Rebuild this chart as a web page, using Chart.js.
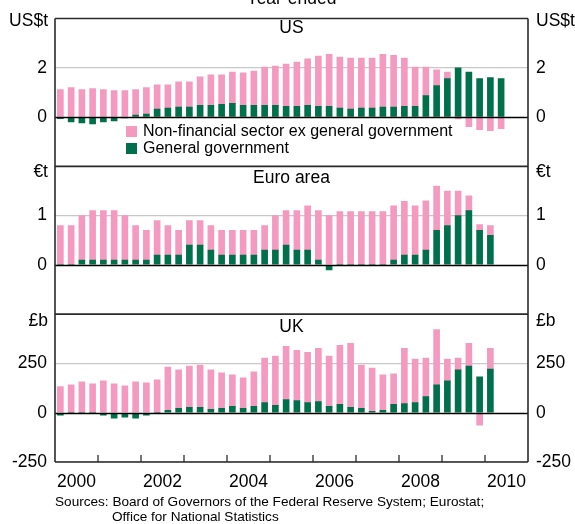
<!DOCTYPE html>
<html><head><meta charset="utf-8">
<script src="https://cdn.jsdelivr.net/npm/chart.js@4"></script>
<style>
html,body{margin:0;padding:0;background:#fff;}
#wrap{position:relative;width:575px;height:524px;overflow:hidden;font-family:"Liberation Sans",Arial,sans-serif;color:#000;}
#c{position:absolute;left:0;top:0;}
.t{position:absolute;white-space:nowrap;line-height:20px;font-size:17.5px;}
.sw{position:absolute;width:11px;height:11px;}
.src{position:absolute;white-space:nowrap;font-size:13.6px;line-height:15px;}
</style></head><body>
<div id="wrap">
<canvas id="c" width="575" height="524"></canvas>
<div class="t" style="left:0;width:583px;text-align:center;top:-12px;">Year-ended</div>
<div class="t" style="left:0;width:583px;text-align:center;top:17px;">US</div>
<div class="t" style="left:0;width:583px;text-align:center;top:167px;">Euro area</div>
<div class="t" style="left:0;width:583px;text-align:center;top:316px;">UK</div>
<div class="t" style="right:527px;top:10px;">US$t</div>
<div class="t" style="left:536px;top:10px;">US$t</div>
<div class="t" style="right:527px;top:161px;">€t</div>
<div class="t" style="left:536px;top:161px;">€t</div>
<div class="t" style="right:527px;top:310px;">£b</div>
<div class="t" style="left:536px;top:310px;">£b</div>
<div class="sw" style="left:126px;top:126px;background:#f49ac1;"></div>
<div class="t" style="left:143px;top:121px;font-size:16px;">Non-financial sector ex general government</div>
<div class="sw" style="left:126px;top:143px;background:#00704a;"></div>
<div class="t" style="left:143px;top:138px;font-size:16px;">General government</div>
<div class="src" style="left:55px;top:494px;">Sources: Board of Governors of the Federal Reserve System; Eurostat;</div>
<div class="src" style="left:112px;top:509px;">Office for National Statistics</div>
</div>
<script>
const years = [2000,2001,2002,2003,2004,2005,2006,2007,2008,2009,2010];
const yearLabels = [2000,2002,2004,2006,2008,2010];
const quarters = years.flatMap(y => ['Q1','Q2','Q3','Q4'].map(q => y + ' ' + q));

// US$ trillions, year-ended
const usGov = [-0.07,-0.2,-0.24,-0.28,-0.2,-0.16,-0.04,0.08,0.12,0.32,0.36,0.4,0.4,0.48,0.48,0.52,0.56,0.48,0.48,0.48,0.48,0.44,0.44,0.48,0.44,0.44,0.36,0.32,0.36,0.36,0.4,0.4,0.44,0.44,0.87,1.28,1.56,2.0,1.83,1.56,1.6,1.56];
const usNonFin = [1.12,1.2,1.12,1.16,1.12,1.07,1.07,1.04,1.08,0.99,0.95,1.03,1.03,1.15,1.23,1.19,1.27,1.31,1.39,1.55,1.59,1.71,1.79,1.88,2.03,2.11,2.07,2.07,2.03,2.03,2.15,2.11,1.95,1.59,1.16,0.64,0.27,-0.08,-0.39,-0.51,-0.55,-0.47];
// Euro trillions
const euGov = [0,0,0.1,0.1,0.1,0.1,0.1,0.1,0.1,0.2,0.2,0.2,0.4,0.4,0.3,0.2,0.2,0.2,0.2,0.3,0.3,0.4,0.3,0.3,0.1,-0.1,0,0,0,0,0,0.1,0.2,0.2,0.3,0.7,0.8,1.0,1.1,0.7,0.6];
const euNonFin = [0.8,0.8,0.9,1.0,1.0,1.0,0.9,0.7,0.6,0.7,0.6,0.5,0.5,0.5,0.5,0.5,0.5,0.5,0.5,0.5,0.7,0.7,0.8,0.9,1.0,1.0,1.08,1.08,1.08,1.08,1.08,1.1,1.09,1.0,1.0,0.9,0.7,0.5,0.3,0.12,0.2];
// £ billions
const ukGov = [-13,0,0,0,-13,-28,-23,-28,-13,0,12,22,27,27,17,22,32,22,32,52,37,67,62,52,57,32,42,27,22,7,12,42,47,52,82,142,162,217,237,182,222];
const ukNonFin = [132,142,157,147,162,147,137,157,152,167,220,195,210,215,200,180,160,155,175,225,250,270,255,255,270,255,300,325,220,220,180,155,280,220,195,280,110,60,115,-63,105];

const usTicks = [0,2], euTicks = [0,1], ukTicks = [-250,0,250];
const usRange = [-2,4], euRange = [-1,2], ukRange = [-250,500];

const PINK = '#f49ac1', GREEN = '#00704a';
Chart.defaults.font.family = "'Liberation Sans', Arial, sans-serif";
Chart.defaults.color = '#000';

const pts = arr => arr.map((v, i) => ({x: i, y: v}));
function ds(label, arr, color, yId) {
  return {label, data: pts(arr), backgroundColor: color, yAxisID: yId, barThickness: 6, borderWidth: 0};
}
const FONT = {size: 17.5};
function yAxis(pos, range, ticks, weight) {
  return {
    type: 'linear', position: pos, stack: pos, stackWeight: 1, weight,
    min: range[0], max: range[1], stacked: true,
    afterBuildTicks: s => { s.ticks = ticks.map(v => ({value: v})); },
    afterFit: s => { s.width = pos === 'left' ? 55 : 47; },
    grid: {drawTicks: false, drawOnChartArea: pos === 'left',
      color: c => (c.tick && c.tick.value === 0) ? 'rgba(0,0,0,0)' : '#c8c8c8', lineWidth: 1.2},
    border: {display: false},
    ticks: {padding: 8, font: FONT, color: '#000'}
  };
}

const framePlugin = {
  id: 'frame',
  afterDatasetsDraw(chart) {
    const {ctx, chartArea: a, scales} = chart;
    ctx.save();
    const line = (x1, y1, x2, y2) => { ctx.beginPath(); ctx.moveTo(x1, y1); ctx.lineTo(x2, y2); ctx.stroke(); };
    ctx.strokeStyle = '#000'; ctx.lineWidth = 1.3;
    ['yUS','yEU','yUK'].forEach(id => {
      const py = Math.round(scales[id].getPixelForValue(0)) + 0.5;
      line(a.left, py, a.right, py);
    });
    ctx.strokeStyle = '#2a2a2a'; ctx.lineWidth = 1.6;
    ['yUS','yEU','yUK'].forEach(id => line(a.left, scales[id].top, a.right, scales[id].top));
    line(a.left, a.bottom, a.right, a.bottom);
    line(a.left, a.top, a.left, a.bottom);
    line(a.right, a.top, a.right, a.bottom);
    const x = scales.x;
    ctx.lineWidth = 1.3;
    for (let k = 1; k < years.length; k++) {
      const px = x.getPixelForValue(k * 4 - 0.5);
      line(px, a.bottom, px, a.bottom - 7);
    }
    ctx.restore();
  }
};

new Chart(document.getElementById('c'), {
  type: 'bar',
  data: {
    labels: quarters,
    datasets: [
      ds('General government', usGov, GREEN, 'yUS'),
      ds('Non-financial sector ex general government', usNonFin, PINK, 'yUS'),
      ds('General government', euGov, GREEN, 'yEU'),
      ds('Non-financial sector ex general government', euNonFin, PINK, 'yEU'),
      ds('General government', ukGov, GREEN, 'yUK'),
      ds('Non-financial sector ex general government', ukNonFin, PINK, 'yUK')
    ]
  },
  options: {
    responsive: false, animation: false, devicePixelRatio: 1,
    layout: {padding: {top: 13, left: 0, right: 0, bottom: 0}},
    plugins: {legend: {display: false}, tooltip: {enabled: false}},
    scales: {
      x: {
        type: 'linear', min: -0.5, max: quarters.length - 0.5, stacked: true, offset: false,
        afterBuildTicks: s => { s.ticks = yearLabels.map(y => ({value: (y - years[0]) * 4 + 1.5})); },
        afterFit: s => { s.height = 62; },
        grid: {display: false}, border: {display: false},
        ticks: {callback: (v, i) => String(yearLabels[i]), autoSkip: false, maxRotation: 0, padding: 2, font: FONT, color: '#000'}
      },
      yUS: yAxis('left', usRange, usTicks, 3),
      yEU: yAxis('left', euRange, euTicks, 2),
      yUK: yAxis('left', ukRange, ukTicks, 1),
      rUS: yAxis('right', usRange, usTicks, 1),
      rEU: yAxis('right', euRange, euTicks, 2),
      rUK: yAxis('right', ukRange, ukTicks, 3)
    }
  },
  plugins: [framePlugin]
});
</script>
</body></html>
